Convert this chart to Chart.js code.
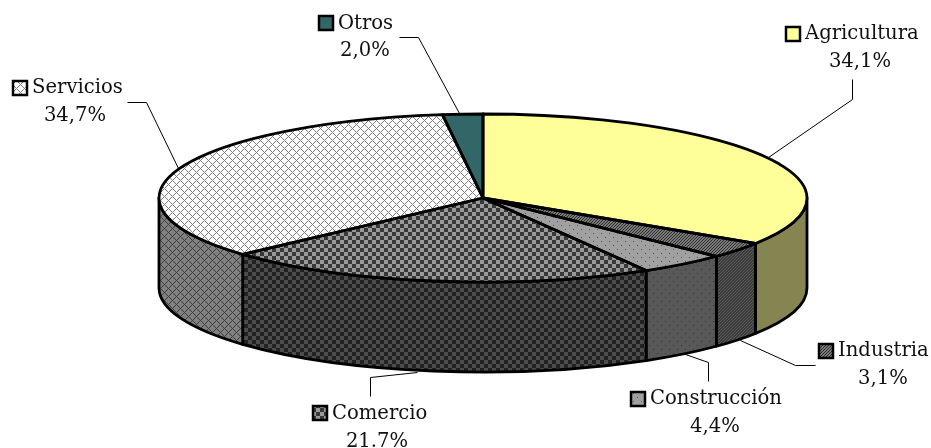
<!DOCTYPE html>
<html>
<head>
<meta charset="utf-8">
<title>Sectores</title>
<script src="https://cdn.jsdelivr.net/npm/chart.js@4"></script>
<style>
  html, body { margin: 0; padding: 0; background: #fff; overflow: hidden; }
  canvas { display: block; }
</style>
</head>
<body>
<canvas id="pieChart" width="931" height="448"></canvas>
<script>
const categories = ['Agricultura', 'Industria', 'Construcción', 'Comercio', 'Servicios', 'Otros'];
const shares = [34.1, 3.1, 4.4, 21.7, 34.7, 2.0];
const shareLabels = ['34,1%', '3,1%', '4,4%', '21.7%', '34,7%', '2,0%'];

// where the pie sits on the page
const centerX = 483;
const centerY = 198;
const radiusX = 324;
const radiusY = 84;
const depth = 90;
const squash = radiusY / radiusX;

// label placement: key box corner, text start, value centre, leader line
const labelLayout = [
  { key: [786, 27], text: 805, valueX: 860, nameY: 34, valueY: 62, leader: [[852, 79], [852, 99], [768, 157]] },
  { key: [819, 344], text: 838, valueX: 883, nameY: 351, valueY: 379, leader: [[815, 365], [795, 365], [740, 340]] },
  { key: [631, 392], text: 650, valueX: 715, nameY: 399, valueY: 427, leader: [[708, 381], [708, 362], [685, 354]] },
  { key: [313, 406], text: 332, valueX: 377, nameY: 414, valueY: 442, leader: [[370, 396], [370, 377], [417, 372]] },
  { key: [13, 81], text: 32, valueX: 75, nameY: 88, valueY: 116, leader: [[127, 102], [146, 102], [178, 168]] },
  { key: [319, 16], text: 338, valueX: 365, nameY: 24, valueY: 51, leader: [[399, 37], [418, 37], [459, 113]] }
];

function tile(size, bg, fg, isInk) {
  const c = document.createElement('canvas');
  c.width = size;
  c.height = size;
  const g = c.getContext('2d');
  g.fillStyle = bg;
  g.fillRect(0, 0, size, size);
  g.fillStyle = fg;
  for (let y = 0; y < size; y++) {
    for (let x = 0; x < size; x++) {
      if (isInk(x, y)) g.fillRect(x, y, 1, 1);
    }
  }
  return c;
}

const solid = () => false;
const hatch = (x, y) => (x + y) % 3 === 0;
const dots = (x, y) => (x === 1 && y === 1) || (x === 5 && y === 5);
const checker = (x, y) => ((x >> 2) + (y >> 2)) % 2 === 0;
const trellis = (x, y) => (x + y) % 8 === 0 || (x - y + 8) % 8 === 0;

const topTiles = [
  tile(8, '#FFFF99', '#FFFF99', solid),
  tile(6, '#777777', '#333333', hatch),
  tile(8, '#a0a0a0', '#555555', dots),
  tile(8, '#999999', '#383838', checker),
  tile(8, '#ffffff', '#808080', trellis),
  tile(8, '#336666', '#336666', solid)
];
const wallTiles = [
  tile(8, '#858552', '#858552', solid),
  tile(6, '#3c3c3c', '#5a5a5a', hatch),
  tile(8, '#585858', '#333333', dots),
  tile(8, '#4d4d4d', '#222222', checker),
  tile(8, '#808080', '#404040', trellis),
  tile(8, '#336666', '#336666', solid)
];

const ctx = document.getElementById('pieChart').getContext('2d');
ctx.imageSmoothingEnabled = false;

// the slices are painted inside a squashed transform, so undo it on the pattern
const shift = centerY * (1 - squash);
const slicePatterns = topTiles.map(t => {
  const p = ctx.createPattern(t, 'repeat');
  p.setTransform(new DOMMatrix([1, 0, 0, 1 / squash, 0, -shift / squash]));
  return p;
});
const keyPatterns = topTiles.map(t => ctx.createPattern(t, 'repeat'));
const wallPatterns = wallTiles.map(t => ctx.createPattern(t, 'repeat'));

const pie3d = {
  id: 'pie3d',
  beforeDatasetsDraw(chart) {
    const c = chart.ctx;
    c.save();
    c.lineJoin = 'round';
    chart.getDatasetMeta(0).data.forEach((arc, i) => {
      const a = Math.max(arc.startAngle, 0);
      const b = Math.min(arc.endAngle, Math.PI);
      if (a >= b) return;
      c.beginPath();
      c.ellipse(arc.x, arc.y, radiusX, radiusY, 0, a, b);
      c.ellipse(arc.x, arc.y + depth, radiusX, radiusY, 0, b, a, true);
      c.closePath();
      c.fillStyle = wallPatterns[i];
      c.fill();
      c.lineWidth = 2.8;
      c.strokeStyle = '#000';
      c.stroke();
    });
    c.restore();
    c.save();
    c.translate(0, centerY);
    c.scale(1, squash);
    c.translate(0, -centerY);
  },
  afterDatasetsDraw(chart) {
    const c = chart.ctx;
    c.restore();
    c.save();
    c.lineJoin = 'round';
    c.lineWidth = 2.8;
    c.strokeStyle = '#000';
    chart.getDatasetMeta(0).data.forEach(arc => {
      c.beginPath();
      c.moveTo(arc.x, arc.y);
      c.ellipse(arc.x, arc.y, radiusX, radiusY, 0, arc.startAngle, arc.endAngle);
      c.closePath();
      c.stroke();
    });
    c.restore();
  },
  afterDraw(chart) {
    const c = chart.ctx;
    c.save();
    c.font = '19.6px "DejaVu Serif"';
    c.textBaseline = 'middle';
    categories.forEach((name, i) => {
      const place = labelLayout[i];
      c.beginPath();
      place.leader.forEach((pt, j) => {
        if (j === 0) c.moveTo(pt[0] + 0.5, pt[1] + 0.5);
        else c.lineTo(pt[0] + 0.5, pt[1] + 0.5);
      });
      c.lineWidth = 1;
      c.strokeStyle = '#000';
      c.stroke();

      c.fillStyle = keyPatterns[i];
      c.fillRect(place.key[0], place.key[1], 14, 14);
      c.lineWidth = 2.5;
      c.strokeRect(place.key[0], place.key[1], 14, 14);

      c.fillStyle = '#111';
      c.textAlign = 'left';
      c.fillText(name, place.text, place.nameY);
      c.textAlign = 'center';
      c.fillText(shareLabels[i], place.valueX, place.valueY);
    });
    c.restore();
  }
};

new Chart(ctx, {
  type: 'pie',
  data: {
    labels: categories,
    datasets: [{
      data: shares,
      backgroundColor: slicePatterns,
      borderWidth: 0,
      radius: radiusX,
      clip: false
    }]
  },
  options: {
    responsive: false,
    animation: false,
    events: [],
    // chart area centre has to land on centerX, centerY
    layout: { padding: { left: 2 * centerX - 931, right: 0, top: 0, bottom: 448 - 2 * centerY } },
    plugins: { legend: { display: false }, tooltip: { enabled: false } }
  },
  plugins: [pie3d]
});
</script>
</body>
</html>
